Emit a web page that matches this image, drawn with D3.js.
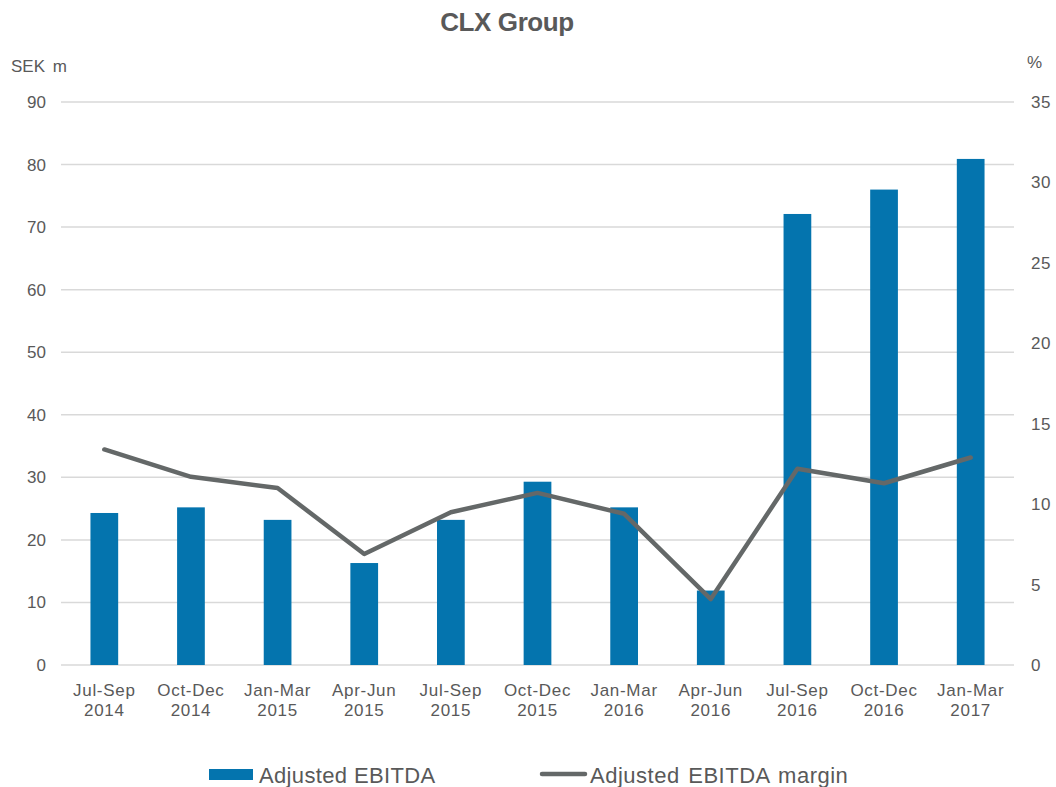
<!DOCTYPE html>
<html><head><meta charset="utf-8">
<script src="https://cdn.jsdelivr.net/npm/d3@7"></script>
<style>body{margin:0;background:#fff}</style>
</head><body>
<svg id="c" width="1056" height="787"></svg>
<script>
const periods = ["Jul-Sep","Oct-Dec","Jan-Mar","Apr-Jun","Jul-Sep","Oct-Dec","Jan-Mar","Apr-Jun","Jul-Sep","Oct-Dec","Jan-Mar"];
const years = ["2014","2014","2015","2015","2015","2015","2016","2016","2016","2016","2017"];
const ebitda = [24.3,25.2,23.2,16.3,23.2,29.3,25.2,11.9,72.1,76.0,80.9];
const margin = [13.4,11.7,11.0,6.9,9.5,10.7,9.4,4.1,12.2,11.3,12.9];
const leftTicks = [0,10,20,30,40,50,60,70,80,90];
const rightTicks = [0,5,10,15,20,25,30,35];

const font = "'Liberation Sans', Arial, sans-serif";
const txt = "#595959";
const svg = d3.select("#c");
const L = 61, R = 1014, T = 102, B = 665;
const cats = periods.map((p,i)=>i);
const x = d3.scaleBand().domain(cats).range([L,R]).paddingInner(0.68).paddingOuter(0.34);
const yL = d3.scaleLinear().domain([0,90]).range([B,T]);
const yR = d3.scaleLinear().domain([0,35]).range([B,T]);

// grid
svg.append("g").selectAll("line").data(leftTicks).join("line")
  .attr("x1",L).attr("x2",R).attr("y1",d=>yL(d)).attr("y2",d=>yL(d))
  .attr("stroke","#d9d9d9").attr("stroke-width",1.5);

// bars
svg.append("g").selectAll("rect").data(ebitda).join("rect")
  .attr("x",(d,i)=>x(i)).attr("width",x.bandwidth())
  .attr("y",d=>yL(d)).attr("height",d=>B-yL(d)).attr("fill","#0474ae");

// line
const line = d3.line().x((d,i)=>x(i)+x.bandwidth()/2).y(d=>yR(d));
svg.append("path").datum(margin).attr("d",line).attr("fill","none")
  .attr("stroke","#646868").attr("stroke-width",4.5).attr("stroke-linejoin","round").attr("stroke-linecap","round");

// axes
const axL = d3.axisLeft(yL).tickValues(leftTicks).tickSize(0).tickPadding(0);
const gl = svg.append("g").attr("transform",`translate(46,0)`).call(axL);
gl.select(".domain").remove();
gl.selectAll("text").attr("font-family",font).attr("font-size",17).attr("fill",txt);

const axR = d3.axisRight(yR).tickValues(rightTicks).tickSize(0).tickPadding(0);
const gr = svg.append("g").attr("transform",`translate(1031,0)`).call(axR);
gr.select(".domain").remove();
gr.selectAll("text").attr("font-family",font).attr("font-size",17).attr("fill",txt).attr("letter-spacing","0.5");

// x labels
const xl = svg.append("g");
cats.forEach(i=>{
  const cx = x(i)+x.bandwidth()/2;
  const t = xl.append("text").attr("x",cx).attr("text-anchor","middle")
    .attr("font-family",font).attr("font-size",17).attr("fill",txt).attr("letter-spacing","0.7");
  t.append("tspan").attr("x",cx).attr("y",696).text(periods[i]);
  t.append("tspan").attr("x",cx).attr("y",716).text(years[i]);
});

// title and units
svg.append("text").attr("x",507).attr("y",31).attr("text-anchor","middle")
  .attr("font-family",font).attr("font-size",26).attr("font-weight","bold").attr("fill",txt)
  .attr("letter-spacing","-0.4").text("CLX Group");
svg.append("text").attr("x",11).attr("y",72).attr("font-family",font).attr("font-size",17).attr("fill",txt).attr("word-spacing","3").text("SEK m");
svg.append("text").attr("x",1027).attr("y",68).attr("font-family",font).attr("font-size",17).attr("fill",txt).text("%");

// legend
svg.append("rect").attr("x",209).attr("y",769).attr("width",44).attr("height",11).attr("fill","#0474ae");
svg.append("text").attr("x",259).attr("y",783).attr("font-family",font).attr("font-size",22).attr("fill",txt).attr("letter-spacing","0.35").text("Adjusted EBITDA");
svg.append("line").attr("x1",542).attr("x2",585).attr("y1",774).attr("y2",774).attr("stroke","#646868").attr("stroke-width",4.5).attr("stroke-linecap","round");
svg.append("text").attr("x",590).attr("y",783).attr("font-family",font).attr("font-size",22).attr("fill",txt).attr("letter-spacing","0.5").attr("word-spacing","2").text("Adjusted EBITDA margin");
</script>
</body></html>
